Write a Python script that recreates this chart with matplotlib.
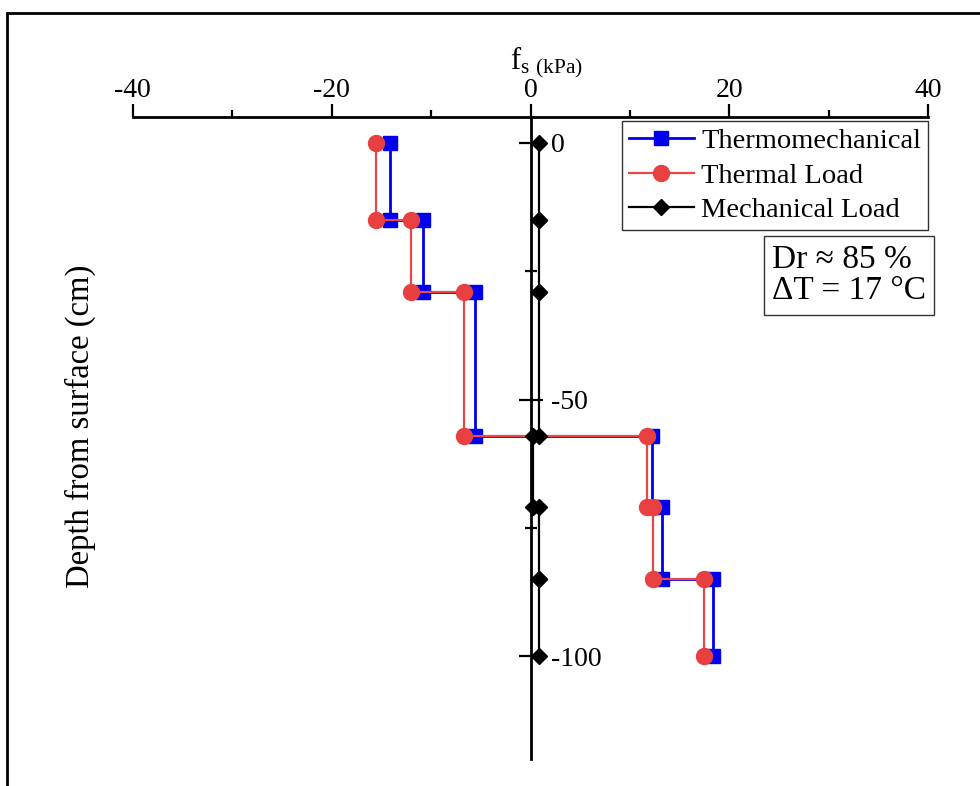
import matplotlib
matplotlib.use("Agg")
import matplotlib.pyplot as plt
from matplotlib.patches import Rectangle
from matplotlib.ticker import FixedLocator

plt.rcParams['font.family'] = ['Liberation Serif', 'DejaVu Serif']
plt.rcParams['mathtext.fontset'] = 'custom'
plt.rcParams['mathtext.rm'] = 'Liberation Serif'
plt.rcParams['axes.unicode_minus'] = False

# ---- data ----
depth = [0, -15, -15, -29, -29, -57, -57, -71, -71, -85, -85, -100]
thermomechanical = [-14.1, -14.1, -10.8, -10.8, -5.6, -5.6, 12.2, 12.2, 13.2, 13.2, 18.4, 18.4]
thermal_load = [-15.5, -15.5, -12.0, -12.0, -6.7, -6.7, 11.7, 11.7, 12.3, 12.3, 17.4, 17.4]
mechanical_load = [0.9, 0.9, 0.9, 0.9, 0.9, 0.9, 0.3, 0.3, 0.9, 0.9, 0.9, 0.9]

x_major = [-40, -20, 0, 20, 40]
x_minor = [-30, -10, 10, 30]
x_labels = ['-40', '-20', '0', '20', '40']
y_major = [0, -50, -100]
y_minor = [-25, -75]
y_labels = ['0', '-50', '-100']

W, H = 980, 786
fig = plt.figure(figsize=(W / 100, H / 100), dpi=100)
ax = fig.add_axes([132.7 / W, 1 - 759 / H, (928.3 - 132.7) / W, (759 - 117.3) / H])

ax.plot(thermomechanical, depth, color='#0000ee', lw=2.0, marker='s', ms=10,
        label='Thermomechanical', zorder=3)
ax.plot(thermal_load, depth, color='#e84848', lw=1.6, marker='o', ms=11.5,
        mfc='#e84040', mec='#e84040', label='Thermal Load', zorder=4)
ax.plot(mechanical_load, depth, color='black', lw=1.6, marker='D', ms=8.5,
        label='Mechanical Load', zorder=5)

ax.set_xlim(-40, 40)
ax.set_ylim(-120, 5)

for s in ['bottom', 'left']:
    ax.spines[s].set_visible(False)
ax.spines['top'].set_linewidth(2.0)
ax.spines['right'].set_position(('data', 0))
ax.spines['right'].set_linewidth(2.0)

ax.xaxis.tick_top()
ax.xaxis.set_major_locator(FixedLocator(x_major))
ax.xaxis.set_minor_locator(FixedLocator(x_minor))
ax.set_xticklabels(x_labels)
ax.tick_params(axis='x', which='major', direction='out', length=9.5, width=1.6,
               labelsize=20, pad=0.5)
ax.tick_params(axis='x', which='minor', direction='out', length=5, width=1.6)

ax.yaxis.tick_right()
ax.yaxis.set_major_locator(FixedLocator(y_major))
ax.yaxis.set_minor_locator(FixedLocator(y_minor))
ax.set_yticklabels(y_labels)
ax.tick_params(axis='y', which='major', direction='inout', length=17, width=1.6,
               labelsize=20, pad=6)
ax.tick_params(axis='y', which='minor', direction='inout', length=8.5, width=1.6)

fig.text(547 / W, 1 - 69 / H, r'$\mathregular{f_{s\ (kPa)}}$', fontsize=22,
         ha='center', va='baseline')
fig.text(80 / W, 1 - 426 / H, 'Depth from surface (cm)', fontsize=23.5,
         rotation=90, ha='center', va='center')

leg = ax.legend(loc='upper right', bbox_to_anchor=(1.0, 0.994), borderaxespad=0,
                fontsize=20.5, handlelength=2.3, handletextpad=0.25,
                labelspacing=0.3, borderpad=0.25, fancybox=False,
                framealpha=1, edgecolor='#333333')
leg.get_frame().set_linewidth(1.0)

fig.text(772 / W, 1 - 244 / H, 'Dr \u2248 85 %\n\u0394T = 17 \u00b0C', fontsize=24,
         ha='left', va='top', linespacing=1.05,
         bbox=dict(boxstyle='square,pad=0.25', fc='white', ec='#333333', lw=1.0))

fig.patches.append(Rectangle((7 / W, -0.1), 1.2, 1 - 13 / H + 0.1,
                             transform=fig.transFigure, fill=False,
                             ec='black', lw=2.0))

fig.savefig('out.png', dpi=100)
